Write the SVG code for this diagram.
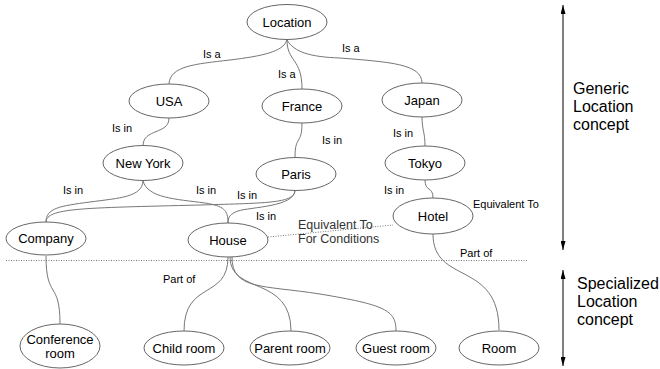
<svg xmlns="http://www.w3.org/2000/svg" width="660" height="369" viewBox="0 0 660 369">
<defs>
<style>
.n ellipse{fill:#fff;stroke:#666;stroke-width:1}
.n text{font-family:"Liberation Sans",Arial,sans-serif;font-size:13px;fill:#000;text-anchor:middle}
.c path{fill:none;stroke:#777;stroke-width:1}
.lb{font-family:"Liberation Sans",Arial,sans-serif;font-size:11px;fill:#000}
.side{font-family:"Liberation Sans",Arial,sans-serif;font-size:16px;fill:#000}
.eq{font-family:"Liberation Sans",Arial,sans-serif;font-size:12.5px;fill:#333}
.dot{fill:none;stroke:#777;stroke-width:1;stroke-dasharray:1,1.5}
.ax{stroke:#000;stroke-width:1;fill:none}
</style>
<marker id="ah" viewBox="0 0 9 5" refX="9" refY="2.5" markerWidth="9" markerHeight="5" orient="auto-start-reverse" markerUnits="userSpaceOnUse">
<path d="M0,0 L9,2.5 L0,5 Z" fill="#000"/>
</marker>
</defs>

<g id="connectors" class="c">
<path d="M287,40 C283,52 262,56 230,60 C195,64 170,66 169,84"/>
<path d="M287,40 C287,62 302,58 302,89"/>
<path d="M287,40 C294,52 310,57 340,58 C390,62 422,64 422,83"/>
<path d="M169,118 C169,135 143,128 143,146"/>
<path d="M302,123 C302,145 295,135 295,157"/>
<path d="M422,117 C422,130 425,132 425,146"/>
<path d="M425,180 C425,192 433,186 433,198"/>
<path d="M143,181 C142,197 120,198 90,202 C60,206 46,208 46,222"/>
<path d="M143,181 C148,198 175,199 205,203 C224,206 228,210 228,223"/>
<path d="M295,190 C295,203 270,203 200,205 C80,208 47,208 46,222"/>
<path d="M295,190 C295,207 250,207 238,211 C230,214 228,217 228,223"/>
<path d="M228,257 C228,300 184,280 184,331"/>
<path d="M230,257 C230,295 291,275 291,331"/>
<path d="M232,257 C232,290 262,285 320,294 C385,305 396,310 396,331"/>
<path d="M46,256 C46,300 60,280 60,324"/>
<path d="M433,234 C433,285 499,260 499,330"/>
<path class="dot" d="M268,237 L393,225"/>
</g>

<g id="labels">
<text class="lb" x="203" y="58">Is a</text>
<text class="lb" x="278" y="78">Is a</text>
<text class="lb" x="342" y="52">Is a</text>
<text class="lb" x="112" y="132">Is in</text>
<text class="lb" x="322" y="144">Is in</text>
<text class="lb" x="393" y="137">Is in</text>
<text class="lb" x="384" y="194">Is in</text>
<text class="lb" x="63" y="194">Is in</text>
<text class="lb" x="196" y="194">Is in</text>
<text class="lb" x="237" y="199">Is in</text>
<text class="lb" x="256" y="220">Is in</text>
<text class="lb" x="473" y="208">Equivalent To</text>
<text class="lb" x="460" y="257">Part of</text>
<text class="lb" x="163" y="283">Part of</text>
<text class="eq" x="298" y="229">Equivalent To</text>
<text class="eq" x="298" y="243">For Conditions</text>
</g>

<g id="Location" class="n"><ellipse cx="287" cy="22" rx="40" ry="17.5"/><text x="287" y="26.5">Location</text></g>
<g id="USA" class="n"><ellipse cx="169" cy="101" rx="40" ry="17"/><text x="169" y="105.5">USA</text></g>
<g id="France" class="n"><ellipse cx="302" cy="106" rx="40" ry="17"/><text x="302" y="110.5">France</text></g>
<g id="Japan" class="n"><ellipse cx="422" cy="100" rx="40" ry="17"/><text x="422" y="104.5">Japan</text></g>
<g id="NewYork" class="n"><ellipse cx="143" cy="163" rx="40" ry="17.5"/><text x="143" y="167.5">New York</text></g>
<g id="Paris" class="n"><ellipse cx="296" cy="174" rx="40" ry="16.5"/><text x="296" y="178.5">Paris</text></g>
<g id="Tokyo" class="n"><ellipse cx="425" cy="163" rx="40" ry="17"/><text x="425" y="167.5">Tokyo</text></g>
<g id="Hotel" class="n"><ellipse cx="433" cy="216" rx="40" ry="18"/><text x="433" y="220.5">Hotel</text></g>
<g id="Company" class="n"><ellipse cx="46" cy="238.5" rx="40" ry="16.5"/><text x="46" y="243">Company</text></g>
<g id="House" class="n"><ellipse cx="228" cy="240" rx="40" ry="17"/><text x="228" y="244.5">House</text></g>
<g id="ConferenceRoom" class="n"><ellipse cx="60" cy="346" rx="40" ry="22"/><text x="60" y="344">Conference</text><text x="60" y="358">room</text></g>
<g id="ChildRoom" class="n"><ellipse cx="184" cy="348" rx="40" ry="17"/><text x="184" y="352.5">Child room</text></g>
<g id="ParentRoom" class="n"><ellipse cx="290" cy="348" rx="40" ry="17"/><text x="290" y="352.5">Parent room</text></g>
<g id="GuestRoom" class="n"><ellipse cx="396" cy="348" rx="40" ry="17"/><text x="396" y="352.5">Guest room</text></g>
<g id="Room" class="n"><ellipse cx="499" cy="348" rx="40" ry="17"/><text x="499" y="352.5">Room</text></g>

<g id="legend">
<line class="dot" x1="6" y1="260.5" x2="528" y2="260.5"/>
<line class="ax" x1="563" y1="5" x2="563" y2="250" marker-start="url(#ah)" marker-end="url(#ah)"/>
<line class="ax" x1="563" y1="270" x2="563" y2="366" marker-start="url(#ah)" marker-end="url(#ah)"/>
<text class="side" x="573" y="94">Generic</text>
<text class="side" x="573" y="112">Location</text>
<text class="side" x="573" y="130">concept</text>
<text class="side" x="577" y="289">Specialized</text>
<text class="side" x="577" y="307">Location</text>
<text class="side" x="577" y="325">concept</text>
</g>
</svg>
